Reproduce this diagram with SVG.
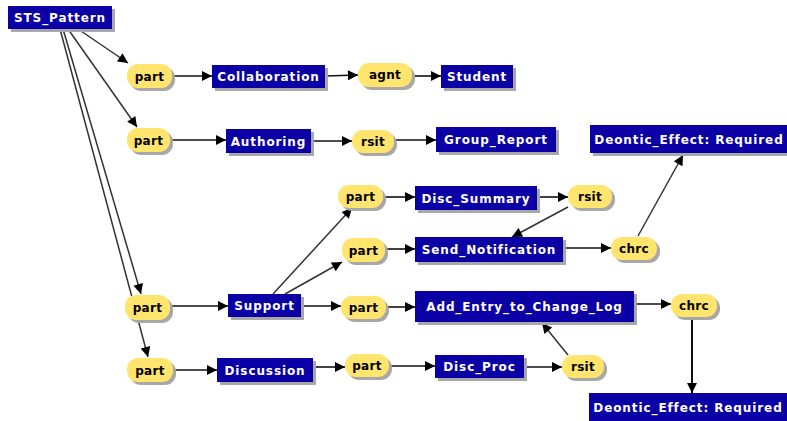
<svg xmlns="http://www.w3.org/2000/svg" width="787" height="421" viewBox="0 0 787 421">
<defs>
<style>
.bg{fill:#ffffff}
.box{fill:#0a00a6}
.pill{fill:#ffe46e}
.sh{fill:#a8a8a8}
.bt{font-family:"DejaVu Sans",Verdana,sans-serif;font-weight:bold;font-size:12px;fill:#ffffff;text-anchor:middle;letter-spacing:0.9px}
.pt{font-family:"DejaVu Sans",Verdana,sans-serif;font-weight:bold;font-size:12px;fill:#000000;text-anchor:middle;letter-spacing:0.3px}
.ln{stroke:#111;stroke-width:1.6;fill:none;marker-end:url(#ah)}
.lg{stroke:#333;stroke-width:1.5;fill:none;marker-end:url(#ah)}
</style>
<marker id="ah" viewBox="0 0 10 10" refX="10" refY="5" markerWidth="12" markerHeight="10" markerUnits="userSpaceOnUse" orient="auto">
<path d="M0,0 L10,5 L0,10 z" fill="#000"/>
</marker>
</defs>
<rect class="bg" x="0" y="0" width="787" height="421"/>

<g id="connectors">
<line class="lg" x1="78" y1="29" x2="128" y2="63"/>
<line class="lg" x1="68" y1="29" x2="137" y2="127"/>
<line class="lg" x1="63" y1="29" x2="141" y2="294"/>
<line class="lg" x1="60" y1="29" x2="148" y2="357"/>
<line class="ln" x1="172" y1="76" x2="212" y2="76"/>
<line class="ln" x1="325" y1="76" x2="358" y2="75"/>
<line class="ln" x1="412" y1="76" x2="441" y2="76"/>
<line class="ln" x1="170" y1="140" x2="226" y2="140"/>
<line class="ln" x1="311" y1="141" x2="352" y2="141"/>
<line class="ln" x1="394" y1="140" x2="436" y2="140"/>
<line class="lg" x1="273" y1="294" x2="352" y2="208"/>
<line class="lg" x1="285" y1="294" x2="342" y2="262"/>
<line class="ln" x1="383" y1="197" x2="415" y2="197"/>
<line class="ln" x1="537" y1="197" x2="568" y2="197"/>
<line class="lg" x1="568" y1="207" x2="512" y2="237"/>
<line class="ln" x1="385" y1="249" x2="415" y2="249"/>
<line class="ln" x1="563" y1="248" x2="611" y2="248"/>
<line class="lg" x1="638" y1="236" x2="683" y2="155"/>
<line class="ln" x1="170" y1="306" x2="228" y2="306"/>
<line class="ln" x1="301" y1="306" x2="341" y2="306"/>
<line class="ln" x1="386" y1="307" x2="415" y2="307"/>
<line class="ln" x1="634" y1="304" x2="671" y2="304"/>
<line class="ln" x1="692" y1="317" x2="692" y2="393" style="stroke-width:2"/>
<line class="lg" x1="568" y1="355" x2="542" y2="323"/>
<line class="ln" x1="173" y1="370" x2="217" y2="370"/>
<line class="ln" x1="313" y1="367" x2="345" y2="367"/>
<line class="ln" x1="389" y1="366" x2="435" y2="366"/>
<line class="ln" x1="524" y1="367" x2="562" y2="367"/>
</g>

<g id="sts_pattern"><rect class="sh" x="11" y="9" width="104" height="23"/><rect class="box" x="8" y="6" width="104" height="23"/><text class="bt" x="60" y="22">STS_Pattern</text></g>

<g id="part1"><rect class="sh" x="130" y="67" width="45" height="24" rx="11"/><rect class="pill" x="127" y="64" width="45" height="24" rx="11"/><text class="pt" x="149.5" y="80.5">part</text></g>
<g id="collaboration"><rect class="sh" x="215" y="68" width="113" height="23"/><rect class="box" x="212" y="65" width="113" height="23"/><text class="bt" x="268.5" y="81">Collaboration</text></g>
<g id="agnt"><rect class="sh" x="361" y="66" width="54" height="24" rx="11"/><rect class="pill" x="358" y="63" width="54" height="24" rx="11"/><text class="pt" x="385" y="79">agnt</text></g>
<g id="student"><rect class="sh" x="444" y="68" width="72" height="23"/><rect class="box" x="441" y="65" width="72" height="23"/><text class="bt" x="477" y="81">Student</text></g>

<g id="part2"><rect class="sh" x="130" y="131" width="43" height="24" rx="11"/><rect class="pill" x="127" y="128" width="43" height="24" rx="11"/><text class="pt" x="148.5" y="144.5">part</text></g>
<g id="authoring"><rect class="sh" x="229" y="132" width="85" height="24"/><rect class="box" x="226" y="129" width="85" height="24"/><text class="bt" x="268.5" y="145.5">Authoring</text></g>
<g id="rsit1"><rect class="sh" x="355" y="133" width="42" height="23" rx="11"/><rect class="pill" x="352" y="130" width="42" height="23" rx="11"/><text class="pt" x="373" y="146">rsit</text></g>
<g id="group_report"><rect class="sh" x="439" y="130" width="120" height="25"/><rect class="box" x="436" y="127" width="120" height="25"/><text class="bt" x="496" y="144">Group_Report</text></g>

<g id="deontic1"><rect class="sh" x="593" y="128" width="197" height="28"/><rect class="box" x="590" y="125" width="197" height="28"/><text class="bt" x="689" y="143.5">Deontic_Effect: Required</text></g>

<g id="part3"><rect class="sh" x="341" y="188" width="45" height="23" rx="11"/><rect class="pill" x="338" y="185" width="45" height="23" rx="11"/><text class="pt" x="360.5" y="201">part</text></g>
<g id="disc_summary"><rect class="sh" x="418" y="189" width="122" height="24"/><rect class="box" x="415" y="186" width="122" height="24"/><text class="bt" x="476" y="202.5">Disc_Summary</text></g>
<g id="rsit2"><rect class="sh" x="571" y="188" width="44" height="23" rx="11"/><rect class="pill" x="568" y="185" width="44" height="23" rx="11"/><text class="pt" x="590" y="201">rsit</text></g>

<g id="part4"><rect class="sh" x="345" y="241" width="43" height="24" rx="11"/><rect class="pill" x="342" y="238" width="43" height="24" rx="11"/><text class="pt" x="363.5" y="254.5">part</text></g>
<g id="send_notification"><rect class="sh" x="418" y="240" width="148" height="25"/><rect class="box" x="415" y="237" width="148" height="25"/><text class="bt" x="489" y="254">Send_Notification</text></g>
<g id="chrc1"><rect class="sh" x="614" y="240" width="46" height="23" rx="11"/><rect class="pill" x="611" y="237" width="46" height="23" rx="11"/><text class="pt" x="634" y="253">chrc</text></g>

<g id="part_support"><rect class="sh" x="128" y="298" width="45" height="25" rx="11"/><rect class="pill" x="125" y="295" width="45" height="25" rx="11"/><text class="pt" x="147.5" y="312">part</text></g>
<g id="support"><rect class="sh" x="231" y="297" width="73" height="23"/><rect class="box" x="228" y="294" width="73" height="23"/><text class="bt" x="264.5" y="310">Support</text></g>
<g id="part5"><rect class="sh" x="344" y="299" width="45" height="23" rx="11"/><rect class="pill" x="341" y="296" width="45" height="23" rx="11"/><text class="pt" x="363.5" y="312">part</text></g>
<g id="add_entry"><rect class="sh" x="418" y="294" width="219" height="31"/><rect class="box" x="415" y="291" width="219" height="31"/><text class="bt" x="524.5" y="311">Add_Entry_to_Change_Log</text></g>
<g id="chrc2"><rect class="sh" x="674" y="297" width="46" height="23" rx="11"/><rect class="pill" x="671" y="294" width="46" height="23" rx="11"/><text class="pt" x="694" y="310">chrc</text></g>

<g id="part_discussion"><rect class="sh" x="130" y="361" width="46" height="24" rx="11"/><rect class="pill" x="127" y="358" width="46" height="24" rx="11"/><text class="pt" x="150" y="374.5">part</text></g>
<g id="discussion"><rect class="sh" x="220" y="361" width="96" height="24"/><rect class="box" x="217" y="358" width="96" height="24"/><text class="bt" x="265" y="374.5">Discussion</text></g>
<g id="part6"><rect class="sh" x="348" y="357" width="44" height="23" rx="11"/><rect class="pill" x="345" y="354" width="44" height="23" rx="11"/><text class="pt" x="367" y="370">part</text></g>
<g id="disc_proc"><rect class="sh" x="438" y="358" width="89" height="23"/><rect class="box" x="435" y="355" width="89" height="23"/><text class="bt" x="479.5" y="371">Disc_Proc</text></g>
<g id="rsit3"><rect class="sh" x="565" y="358" width="42" height="23" rx="11"/><rect class="pill" x="562" y="355" width="42" height="23" rx="11"/><text class="pt" x="583" y="371">rsit</text></g>

<g id="deontic2"><rect class="sh" x="592" y="396" width="198" height="28"/><rect class="box" x="589" y="393" width="198" height="28"/><text class="bt" x="688" y="411.5">Deontic_Effect: Required</text></g>
</svg>
